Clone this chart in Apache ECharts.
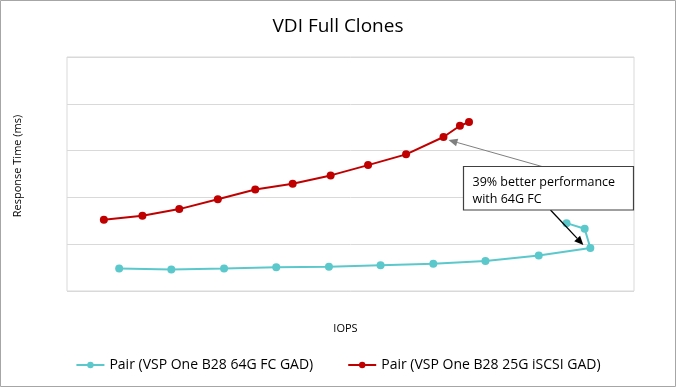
<!DOCTYPE html>
<html>
<head>
<meta charset="utf-8">
<script src="https://cdn.jsdelivr.net/npm/echarts@6/dist/echarts.min.js"></script>
<style>
html,body{margin:0;padding:0;background:#fff;}
#chart{width:676px;height:387px;}
</style>
</head>
<body>
<div id="chart"></div>
<script>
// Data (arbitrary IOPS scale 0-100, response time scale 0-5)
var titleText = "VDI Full Clones";
var xAxisName = "IOPS";
var yAxisName = "Response Time (ms)";
var seriesNames = ["Pair (VSP One B28 64G FC GAD)", "Pair (VSP One B28 25G iSCSI GAD)"];
var fcIops = [9.2, 18.4, 27.7, 36.9, 46.2, 55.3, 64.6, 73.8, 83.2, 92.3, 91.3, 88.1];
var fcResp = [0.48, 0.46, 0.48, 0.51, 0.52, 0.55, 0.58, 0.64, 0.76, 0.92, 1.33, 1.45];
var iscsiIops = [6.5, 13.3, 19.8, 26.6, 33.2, 39.8, 46.5, 53.1, 59.8, 66.4, 69.3, 70.9];
var iscsiResp = [1.52, 1.61, 1.75, 1.96, 2.17, 2.29, 2.47, 2.69, 2.92, 3.29, 3.53, 3.61];
var annotationLines = ["39% better performance", "with 64G FC"];

function pairs(xs, ys){ return xs.map(function(x,i){ return [x, ys[i]]; }); }

var FONT = "'Open Sans', sans-serif";
var chart = echarts.init(document.getElementById('chart'), null, {renderer:'canvas'});
var option = {
  animation: false,
  backgroundColor: '#ffffff',
  title: {
    text: titleText, left: 'center', top: 12,
    textStyle: {fontFamily: FONT, fontSize: 19, fontWeight: 'normal', color: '#000000'}
  },
  grid: {left: 67, top: 57, right: 42, bottom: 96, show: true, borderColor: '#d9d9d9', borderWidth: 1},
  legend: {
    bottom: 10, left: 'center', itemGap: 34, itemWidth: 28, itemHeight: 8,
    textStyle: {fontFamily: FONT, fontSize: 14, color: '#000000'},
    data: seriesNames
  },
  xAxis: {
    type: 'value', min: 0, max: 100,
    name: xAxisName, nameLocation: 'middle', nameGap: 32,
    nameTextStyle: {fontFamily: FONT, fontSize: 11, color: '#000000', padding: [0, 10, 0, 0]},
    axisLine: {show: false}, axisTick: {show: false}, axisLabel: {show: false}, splitLine: {show: false}
  },
  yAxis: {
    type: 'value', min: 0, max: 5, interval: 1,
    name: yAxisName, nameLocation: 'middle', nameGap: 44,
    nameTextStyle: {fontFamily: FONT, fontSize: 11, color: '#000000', padding: [0, 0, 0, 16]},
    axisLine: {show: false}, axisTick: {show: false}, axisLabel: {show: false},
    splitLine: {show: true, lineStyle: {color: '#d9d9d9', width: 1}}
  },
  series: [
    {
      name: seriesNames[0], type: 'line', data: pairs(fcIops, fcResp),
      symbol: 'circle', symbolSize: 8, showSymbol: true,
      itemStyle: {color: '#5bc8cc'}, lineStyle: {color: '#5bc8cc', width: 2}, z: 3
    },
    {
      name: seriesNames[1], type: 'line', data: pairs(iscsiIops, iscsiResp),
      symbol: 'circle', symbolSize: 8, showSymbol: true,
      itemStyle: {color: '#c00000'}, lineStyle: {color: '#c00000', width: 2}, z: 3
    }
  ]
};
chart.setOption(option);

function arrow(from, to, color, width, headLen, headW){
  var dx = to[0]-from[0], dy = to[1]-from[1];
  var L = Math.sqrt(dx*dx+dy*dy); var ux = dx/L, uy = dy/L;
  var bx = to[0]-ux*headLen, by = to[1]-uy*headLen;
  var px = -uy, py = ux;
  return [
    {type:'line', shape:{x1:from[0], y1:from[1], x2:bx, y2:by}, style:{stroke:color, lineWidth:width}, z:10},
    {type:'polygon', shape:{points:[[to[0],to[1]],[bx+px*headW,by+py*headW],[bx-px*headW,by-py*headW]]}, style:{fill:color}, z:10}
  ];
}

var redPt = chart.convertToPixel({gridIndex:0}, [iscsiIops[9], iscsiResp[9]]);
var tealPt = chart.convertToPixel({gridIndex:0}, [fcIops[9], fcResp[9]]);
var box = {x: 463.5, y: 166.5, w: 170, h: 43.5};
var elements = [];
elements = elements.concat(arrow([box.x+82, box.y+1], [redPt[0]+5, redPt[1]+3], '#7f7f7f', 1, 9, 4));
elements = elements.concat(arrow([box.x+87, box.y+box.h], [tealPt[0]-7, tealPt[1]-3], '#000000', 1.3, 9, 4));
elements.push({type:'rect', shape:{x:box.x, y:box.y, width:box.w, height:box.h}, style:{fill:'#ffffff', stroke:'#404040', lineWidth:1.2}, z:11});
elements.push({type:'text', x: box.x+9, y: box.y+7, style:{text: annotationLines.join('\n'), fontFamily: FONT, fontSize: 12.5, lineHeight: 17, fill:'#000000'}, z:12});
elements.push({type:'rect', shape:{x:0.5, y:0.5, width:675, height:386}, style:{fill:'none', stroke:'#a6a6a6', lineWidth:1}, z:0, silent:true});
chart.setOption({graphic: elements});
</script>
</body>
</html>
